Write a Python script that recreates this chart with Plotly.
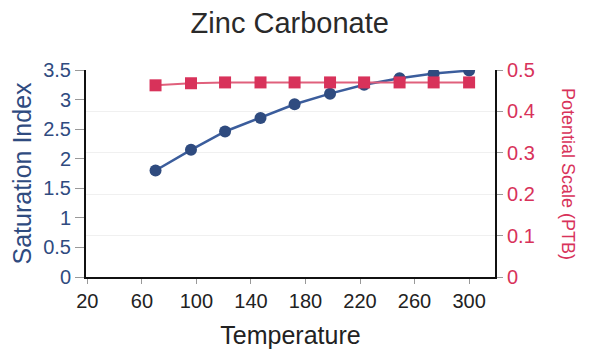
import plotly.graph_objects as go

COLOR_BLUE = "#2f4b7f"
COLOR_BLUE_LINE = "#3b5d9c"
COLOR_RED = "#d8325a"
COLOR_RED_LINE = "#e0607c"

temperature = [70, 96, 121, 147, 172, 198, 223, 249, 274, 300]
saturation_index = [1.8, 2.15, 2.46, 2.69, 2.92, 3.10, 3.25, 3.36, 3.44, 3.49]
potential_scale = [0.463, 0.468, 0.470, 0.470, 0.470, 0.470, 0.470, 0.470, 0.470, 0.470]

x_ticks = [20, 60, 100, 140, 180, 220, 260, 300]
y_ticks = [0, 0.5, 1, 1.5, 2, 2.5, 3, 3.5]
y2_ticks = [0, 0.1, 0.2, 0.3, 0.4, 0.5]

fig = go.Figure()

fig.add_trace(go.Scatter(
    x=temperature, y=saturation_index, name="Saturation Index",
    mode="lines+markers",
    line=dict(color=COLOR_BLUE_LINE, width=2.5),
    marker=dict(symbol="circle", size=12, color=COLOR_BLUE),
))
fig.add_trace(go.Scatter(
    x=temperature, y=potential_scale, name="Potential Scale (PTB)",
    mode="lines+markers", yaxis="y2",
    line=dict(color=COLOR_RED_LINE, width=2),
    marker=dict(symbol="square", size=12, color=COLOR_RED),
))

# page body has an 8px margin, so the figure is drawn 8px smaller
fig.update_layout(
    width=587, height=344,
    margin=dict(t=62, b=75, l=78, r=100),
    plot_bgcolor="white", paper_bgcolor="white",
    showlegend=False,
    font=dict(family="Liberation Sans, Arial, sans-serif"),
    title=dict(text="Zinc Carbonate", x=0.48, xanchor="center", y=0.956, yanchor="middle",
               font=dict(size=29, color="#2a2a2a")),
    xaxis=dict(
        range=[19, 319], tickvals=x_ticks, showgrid=False, zeroline=False,
        showline=True, linecolor="#111111", linewidth=2,
        ticks="outside", ticklen=5, tickcolor="#999999",
        tickfont=dict(size=20, color="#222222"),
        title=dict(text="Temperature", font=dict(size=25, color="#222222"), standoff=15),
        automargin=False,
    ),
    yaxis=dict(
        range=[0, 3.5], tickvals=y_ticks, ticktext=["0", "0.5", "1", "1.5", "2", "2.5", "3", "3.5"],
        showgrid=False, zeroline=False,
        showline=True, linecolor="#111111", linewidth=2,
        ticks="outside", ticklen=9, tickcolor="#999999",
        tickfont=dict(size=20, color=COLOR_BLUE),
        title=dict(text="Saturation Index", font=dict(size=25, color=COLOR_BLUE), standoff=14),
        automargin=False,
    ),
    yaxis2=dict(
        range=[0, 0.5], tickvals=y2_ticks, ticktext=["0", "0.1", "0.2", "0.3", "0.4", "0.5"],
        overlaying="y", side="right",
        showgrid=True, gridcolor="#f0f0f0", zeroline=False,
        showline=True, linecolor="#111111", linewidth=2,
        ticks="outside", ticklen=6, tickcolor="#999999",
        tickfont=dict(size=20, color=COLOR_RED),
        automargin=False,
    ),
)

fig.add_annotation(
    text="Potential Scale (PTB)", textangle=90,
    xref="paper", yref="paper", x=1.18, y=0.5, xanchor="center", yanchor="middle",
    showarrow=False, font=dict(size=18, color=COLOR_RED),
)

fig.write_html("out.html")
